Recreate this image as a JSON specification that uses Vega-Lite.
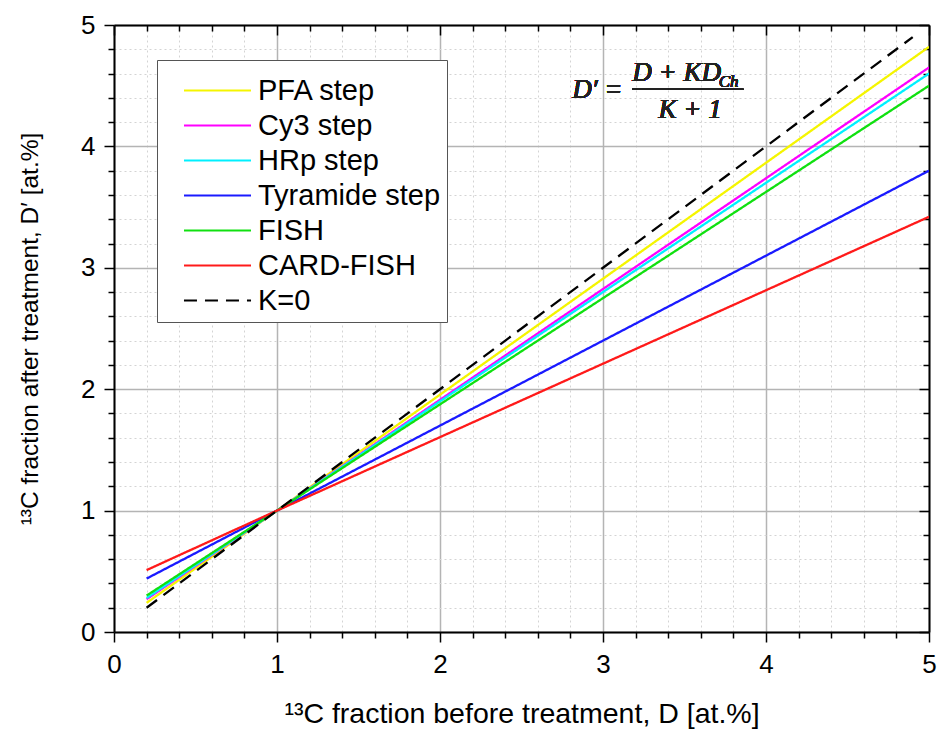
{
  "$schema": "https://vega.github.io/schema/vega-lite/v6.json",
  "width": 815,
  "height": 607,
  "autosize": {"type": "none"},
  "padding": {"left": 114, "top": 25, "right": 8, "bottom": 108},
  "background": "white",
  "config": {"view": {"stroke": null}, "font": "Liberation Sans"},
  "datasets": {
    "lines": [
      {"series": "PFA step", "D": 0.2, "Dp": 0.24},
      {"series": "PFA step", "D": 1, "Dp": 1},
      {"series": "PFA step", "D": 5, "Dp": 4.82},
      {"series": "Cy3 step", "D": 0.2, "Dp": 0.27},
      {"series": "Cy3 step", "D": 1, "Dp": 1},
      {"series": "Cy3 step", "D": 5, "Dp": 4.65},
      {"series": "HRp step", "D": 0.2, "Dp": 0.28},
      {"series": "HRp step", "D": 1, "Dp": 1},
      {"series": "HRp step", "D": 5, "Dp": 4.6},
      {"series": "Tyramide step", "D": 0.2, "Dp": 0.44},
      {"series": "Tyramide step", "D": 1, "Dp": 1},
      {"series": "Tyramide step", "D": 5, "Dp": 3.8},
      {"series": "FISH", "D": 0.2, "Dp": 0.3},
      {"series": "FISH", "D": 1, "Dp": 1},
      {"series": "FISH", "D": 5, "Dp": 4.5},
      {"series": "CARD-FISH", "D": 0.2, "Dp": 0.51},
      {"series": "CARD-FISH", "D": 1, "Dp": 1},
      {"series": "CARD-FISH", "D": 5, "Dp": 3.42},
      {"series": "K=0", "D": 0.2, "Dp": 0.2},
      {"series": "K=0", "D": 1, "Dp": 1},
      {"series": "K=0", "D": 4.9, "Dp": 4.9}
    ]
  },
  "data": {"name": "lines"},
  "layer": [
    {
      "mark": {"type": "line", "strokeWidth": 2.3, "clip": true},
      "encoding": {
        "x": {
          "field": "D", "type": "quantitative",
          "scale": {"domain": [0, 5], "nice": false, "zero": false},
          "axis": {
            "orient": "bottom",
            "values": [0,0.2,0.4,0.6,0.8,1,1.2,1.4,1.6,1.8,2,2.2,2.4,2.6,2.8,3,3.2,3.4,3.6,3.8,4,4.2,4.4,4.6,4.8,5],
            "labelExpr": "datum.value % 1 === 0 ? format(datum.value, 'd') : ''",
            "labelFont": "Liberation Sans", "labelFontSize": 26, "labelColor": "black",
            "labelPadding": 9, "labelFlush": false, "labelOverlap": false,
            "tickColor": "black", "tickWidth": 1.5,
            "tickSize": {"condition": {"test": "datum.value % 1 === 0", "value": 10}, "value": 6},
            "domainColor": "black", "domainWidth": 2,
            "grid": true,
            "gridColor": {"condition": {"test": "datum.value % 1 === 0", "value": "#b4b4b4"}, "value": "#d4d4d4"},
            "gridDash": {"condition": {"test": "datum.value % 1 === 0", "value": [1, 0]}, "value": [2, 3]},
            "gridWidth": {"condition": {"test": "datum.value % 1 === 0", "value": 1.5}, "value": 1},
            "title": "¹³C fraction before treatment, D [at.%]",
            "titleFont": "Liberation Sans", "titleFontSize": 28.5, "titleFontWeight": "normal", "titleColor": "black",
            "titleY": 81, "titleBaseline": "middle"
          }
        },
        "y": {
          "field": "Dp", "type": "quantitative",
          "scale": {"domain": [0, 5], "nice": false, "zero": false},
          "axis": {
            "orient": "left",
            "values": [0,0.2,0.4,0.6,0.8,1,1.2,1.4,1.6,1.8,2,2.2,2.4,2.6,2.8,3,3.2,3.4,3.6,3.8,4,4.2,4.4,4.6,4.8,5],
            "labelExpr": "datum.value % 1 === 0 ? format(datum.value, 'd') : ''",
            "labelFont": "Liberation Sans", "labelFontSize": 26, "labelColor": "black",
            "labelPadding": 9, "labelFlush": false, "labelOverlap": false,
            "tickColor": "black", "tickWidth": 1.5,
            "tickSize": {"condition": {"test": "datum.value % 1 === 0", "value": 10}, "value": 6},
            "domainColor": "black", "domainWidth": 2,
            "grid": true,
            "gridColor": {"condition": {"test": "datum.value % 1 === 0", "value": "#b4b4b4"}, "value": "#d4d4d4"},
            "gridDash": {"condition": {"test": "datum.value % 1 === 0", "value": [1, 0]}, "value": [2, 3]},
            "gridWidth": {"condition": {"test": "datum.value % 1 === 0", "value": 1.5}, "value": 1},
            "title": "¹³C fraction after treatment, D′ [at.%]",
            "titleFont": "Liberation Sans", "titleFontSize": 24.5, "titleFontWeight": "normal", "titleColor": "black",
            "titleX": -84, "titleBaseline": "middle"
          }
        },
        "color": {
          "field": "series", "type": "nominal",
          "scale": {
            "domain": ["PFA step", "Cy3 step", "HRp step", "Tyramide step", "FISH", "CARD-FISH", "K=0"],
            "range": ["#f5f500", "#ff00ff", "#00f0ff", "#1a1aff", "#10e010", "#ff1a1a", "#000000"]
          },
          "legend": {
            "orient": "none", "legendX": 43, "legendY": 35, "title": " ", "titleFontSize": 8, "titlePadding": 2,
            "symbolType": "M-4,0H4", "symbolSize": 281, "symbolStrokeWidth": 2.2, "symbolOffset": 40,
            "labelFont": "Liberation Sans", "labelFontSize": 29, "labelColor": "black", "labelLimit": 400,
            "labelOffset": 26, "rowPadding": 5, "padding": 6,
            "strokeColor": "#555555", "fillColor": "white"
          }
        },
        "strokeDash": {
          "field": "series", "type": "nominal",
          "scale": {
            "domain": ["PFA step", "Cy3 step", "HRp step", "Tyramide step", "FISH", "CARD-FISH", "K=0"],
            "range": [[1, 0], [1, 0], [1, 0], [1, 0], [1, 0], [1, 0], [13, 8]]
          },
          "legend": {
            "orient": "none", "legendX": 43, "legendY": 35, "title": " ", "titleFontSize": 8, "titlePadding": 2,
            "symbolType": "M-4,0H4", "symbolSize": 281, "symbolStrokeWidth": 2.2, "symbolOffset": 40,
            "labelFont": "Liberation Sans", "labelFontSize": 29, "labelColor": "black", "labelLimit": 400,
            "labelOffset": 26, "rowPadding": 5, "padding": 6,
            "strokeColor": "#555555", "fillColor": "white"
          }
        }
      }
    },
    {
      "mark": {"type": "point", "opacity": 0},
      "encoding": {
        "x": {
          "field": "D", "type": "quantitative",
          "axis": {
            "orient": "top",
            "values": [0,0.2,0.4,0.6,0.8,1,1.2,1.4,1.6,1.8,2,2.2,2.4,2.6,2.8,3,3.2,3.4,3.6,3.8,4,4.2,4.4,4.6,4.8,5],
            "labels": false, "grid": false, "title": null,
            "tickColor": "black", "tickWidth": 1.5,
            "tickSize": {"condition": {"test": "datum.value % 1 === 0", "value": -10}, "value": -6},
            "domainColor": "black", "domainWidth": 2
          }
        },
        "y": {
          "field": "Dp", "type": "quantitative",
          "axis": {
            "orient": "right",
            "values": [0,0.2,0.4,0.6,0.8,1,1.2,1.4,1.6,1.8,2,2.2,2.4,2.6,2.8,3,3.2,3.4,3.6,3.8,4,4.2,4.4,4.6,4.8,5],
            "labels": false, "grid": false, "title": null,
            "tickColor": "black", "tickWidth": 1.5,
            "tickSize": {"condition": {"test": "datum.value % 1 === 0", "value": -10}, "value": -6},
            "domainColor": "black", "domainWidth": 2
          }
        }
      }
    },
    {
      "mark": {"type": "text", "text": "D′ =", "font": "Liberation Serif", "fontStyle": "italic", "fontWeight": "normal", "fontSize": 27, "align": "right", "baseline": "alphabetic", "color": "#222222"},
      "encoding": {
        "x": {"datum": 3.12, "type": "quantitative", "axis": null},
        "y": {"datum": 4.40, "type": "quantitative", "axis": null}
      }
    },
    {
      "mark": {"type": "text", "text": "D + KD", "font": "Liberation Serif", "fontStyle": "italic", "fontWeight": "normal", "fontSize": 27, "align": "left", "baseline": "alphabetic", "color": "#222222"},
      "encoding": {
        "x": {"datum": 3.18, "type": "quantitative", "axis": null},
        "y": {"datum": 4.54, "type": "quantitative", "axis": null}
      }
    },
    {
      "mark": {"type": "text", "text": "Ch", "font": "Liberation Serif", "fontStyle": "italic", "fontWeight": "normal", "fontSize": 17, "align": "left", "baseline": "alphabetic", "color": "#222222"},
      "encoding": {
        "x": {"datum": 3.71, "type": "quantitative", "axis": null},
        "y": {"datum": 4.49, "type": "quantitative", "axis": null}
      }
    },
    {
      "mark": {"type": "text", "text": "K + 1", "font": "Liberation Serif", "fontStyle": "italic", "fontWeight": "normal", "fontSize": 27, "align": "left", "baseline": "alphabetic", "color": "#222222"},
      "encoding": {
        "x": {"datum": 3.34, "type": "quantitative", "axis": null},
        "y": {"datum": 4.23, "type": "quantitative", "axis": null}
      }
    },
    {
      "mark": {"type": "rule", "color": "#222222", "strokeWidth": 1.5},
      "encoding": {
        "x": {"datum": 3.18, "type": "quantitative", "axis": null},
        "x2": {"datum": 3.86},
        "y": {"datum": 4.47, "type": "quantitative", "axis": null}
      }
    }
  ],
  "resolve": {"axis": {"x": "independent", "y": "independent"}}
}
